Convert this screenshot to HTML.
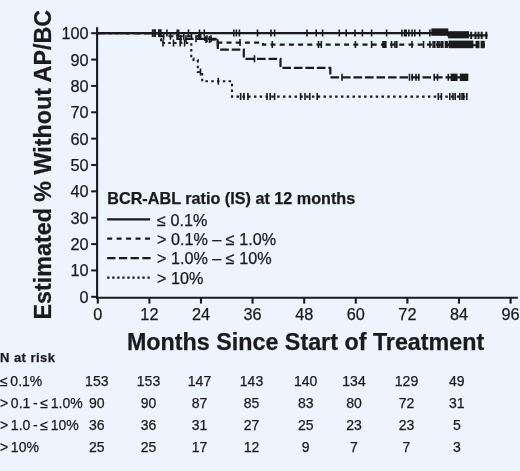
<!DOCTYPE html>
<html><head><meta charset="utf-8"><style>
html,body{margin:0;padding:0;background:#edf4fd;}
body{width:520px;height:471px;overflow:hidden;}
svg{display:block;will-change:transform;}
text{font-family:"Liberation Sans",sans-serif;fill:#1a1a1a;stroke:#1a1a1a;stroke-width:0.25px;}
.tl{font-size:16.3px;}
.at{font-size:23.3px;font-weight:bold;}
.lt{font-size:16.2px;font-weight:bold;}
.li{font-size:16.2px;}
.nh{font-size:13px;font-weight:bold;letter-spacing:0.45px;}
.rl{font-size:14px;word-spacing:-1.2px;}
.rn{font-size:14px;}
</style></head><body>
<svg width="520" height="471" viewBox="0 0 520 471">
<rect width="520" height="471" fill="#edf4fd"/>
<line x1="97.1" y1="27.2" x2="97.1" y2="298.8" stroke="#1a1a1a" stroke-width="2.1"/>
<line x1="96" y1="297.8" x2="517.8" y2="297.8" stroke="#1a1a1a" stroke-width="2.1"/>
<line x1="91.2" y1="296.80" x2="97" y2="296.80" stroke="#1a1a1a" stroke-width="2"/>
<text x="88.6" y="302.80" text-anchor="end" class="tl">0</text>
<line x1="91.2" y1="270.44" x2="97" y2="270.44" stroke="#1a1a1a" stroke-width="2"/>
<text x="88.6" y="276.44" text-anchor="end" class="tl">10</text>
<line x1="91.2" y1="244.08" x2="97" y2="244.08" stroke="#1a1a1a" stroke-width="2"/>
<text x="88.6" y="250.08" text-anchor="end" class="tl">20</text>
<line x1="91.2" y1="217.72" x2="97" y2="217.72" stroke="#1a1a1a" stroke-width="2"/>
<text x="88.6" y="223.72" text-anchor="end" class="tl">30</text>
<line x1="91.2" y1="191.36" x2="97" y2="191.36" stroke="#1a1a1a" stroke-width="2"/>
<text x="88.6" y="197.36" text-anchor="end" class="tl">40</text>
<line x1="91.2" y1="165.00" x2="97" y2="165.00" stroke="#1a1a1a" stroke-width="2"/>
<text x="88.6" y="171.00" text-anchor="end" class="tl">50</text>
<line x1="91.2" y1="138.64" x2="97" y2="138.64" stroke="#1a1a1a" stroke-width="2"/>
<text x="88.6" y="144.64" text-anchor="end" class="tl">60</text>
<line x1="91.2" y1="112.28" x2="97" y2="112.28" stroke="#1a1a1a" stroke-width="2"/>
<text x="88.6" y="118.28" text-anchor="end" class="tl">70</text>
<line x1="91.2" y1="85.92" x2="97" y2="85.92" stroke="#1a1a1a" stroke-width="2"/>
<text x="88.6" y="91.92" text-anchor="end" class="tl">80</text>
<line x1="91.2" y1="59.56" x2="97" y2="59.56" stroke="#1a1a1a" stroke-width="2"/>
<text x="88.6" y="65.56" text-anchor="end" class="tl">90</text>
<line x1="91.2" y1="33.20" x2="97" y2="33.20" stroke="#1a1a1a" stroke-width="2"/>
<text x="88.6" y="39.20" text-anchor="end" class="tl">100</text>
<line x1="97.80" y1="297" x2="97.80" y2="303.6" stroke="#1a1a1a" stroke-width="2.1"/>
<text x="97.80" y="319.7" text-anchor="middle" class="tl">0</text>
<line x1="149.40" y1="297" x2="149.40" y2="303.6" stroke="#1a1a1a" stroke-width="2.1"/>
<text x="149.40" y="319.7" text-anchor="middle" class="tl">12</text>
<line x1="201.00" y1="297" x2="201.00" y2="303.6" stroke="#1a1a1a" stroke-width="2.1"/>
<text x="201.00" y="319.7" text-anchor="middle" class="tl">24</text>
<line x1="252.60" y1="297" x2="252.60" y2="303.6" stroke="#1a1a1a" stroke-width="2.1"/>
<text x="252.60" y="319.7" text-anchor="middle" class="tl">36</text>
<line x1="304.20" y1="297" x2="304.20" y2="303.6" stroke="#1a1a1a" stroke-width="2.1"/>
<text x="304.20" y="319.7" text-anchor="middle" class="tl">48</text>
<line x1="355.80" y1="297" x2="355.80" y2="303.6" stroke="#1a1a1a" stroke-width="2.1"/>
<text x="355.80" y="319.7" text-anchor="middle" class="tl">60</text>
<line x1="407.40" y1="297" x2="407.40" y2="303.6" stroke="#1a1a1a" stroke-width="2.1"/>
<text x="407.40" y="319.7" text-anchor="middle" class="tl">72</text>
<line x1="459.00" y1="297" x2="459.00" y2="303.6" stroke="#1a1a1a" stroke-width="2.1"/>
<text x="459.00" y="319.7" text-anchor="middle" class="tl">84</text>
<line x1="510.60" y1="297" x2="510.60" y2="303.6" stroke="#1a1a1a" stroke-width="2.1"/>
<text x="510.60" y="319.7" text-anchor="middle" class="tl">96</text>
<path d="M97.00,33.10 L159.50,33.10 L159.50,39.00 L161.00,39.00 L161.00,43.00 L191.30,43.00 L191.30,58.50 L193.50,58.50 L193.50,60.00 L197.80,60.00 L197.80,72.00 L202.20,72.00 L202.20,81.30 L232.00,81.30 L232.00,96.60 L467.00,96.60" fill="none" stroke="#1a1a1a" stroke-width="2.1" stroke-dasharray="2.5 3.3"/>
<path d="M97.00,33.10 L177.50,33.10 L177.50,38.80 L217.80,38.80 L217.80,49.60 L243.80,49.60 L243.80,58.80 L280.50,58.80 L280.50,67.90 L330.30,67.90 L330.30,77.30 L468.00,77.30" fill="none" stroke="#1a1a1a" stroke-width="2.2" stroke-dasharray="8.6 2.9" stroke-dashoffset="-1.7"/>
<path d="M97.00,33.10 L158.50,33.10 L158.50,36.20 L205.00,36.20 L205.00,39.60 L215.50,39.60 L215.50,42.60 L263.00,42.60 L263.00,44.60 L448.00,44.60 L448.00,45.20 L484.80,45.20" fill="none" stroke="#1a1a1a" stroke-width="2.1" stroke-dasharray="5 4.2" stroke-dashoffset="-1"/>
<path d="M97.00,33.10 L448.30,33.10 L448.30,35.40 L487.70,35.40" fill="none" stroke="#1a1a1a" stroke-width="2.1"/>
<path d="M152.8,29.3v7.6 M155.0,29.3v7.6 M159.0,29.3v7.6 M160.7,29.3v7.6" stroke="#1a1a1a" stroke-width="2.0" fill="none"/>
<path d="M166.9,29.6v7 M177.2,29.6v7 M178.6,29.6v7 M188.5,29.6v7 M199.5,29.6v7 M204.3,29.6v7 M233.8,29.6v7 M236.4,29.6v7 M239.4,29.6v7 M257.5,29.6v7 M271.0,29.6v7 M274.6,29.6v7 M307.0,29.6v7 M316.2,29.6v7 M322.6,29.6v7 M339.3,29.6v7 M346.2,29.6v7 M355.0,29.6v7 M362.4,29.6v7 M371.6,29.6v7 M386.6,29.6v7 M401.9,29.6v7 M404.6,29.6v7 M406.2,29.6v7 M408.9,29.6v7 M412.1,29.6v7 M414.8,29.6v7 M419.7,29.6v7 M429.9,29.6v7" stroke="#1a1a1a" stroke-width="1.6" fill="none"/>
<path d="M471.2,31.8v7.3 M475.5,31.8v7.3 M478.5,31.8v7.3 M481.7,31.8v7.3 M486.3,31.8v7.3" stroke="#1a1a1a" stroke-width="2" fill="none"/>
<path d="M163.6,32.7v7 M170.5,32.7v7 M177.5,32.7v7 M183.8,32.7v7 M191.5,32.7v7 M198.8,32.7v7 M200.6,32.7v7 M206.0,36.1v7 M209.5,36.1v7 M217.5,39.1v7 M240.0,39.1v7 M272.3,41.1v7 M318.5,41.1v7 M321.3,41.1v7 M355.4,41.1v7 M371.6,41.1v7 M383.0,41.1v7 M384.5,41.1v7 M385.8,41.1v7 M391.5,41.1v7 M395.0,41.1v7 M396.8,41.1v7 M412.0,41.1v7 M423.5,41.1v7 M429.9,41.1v7 M433.1,41.1v7 M434.8,41.1v7 M437.4,41.1v7 M439.1,41.1v7 M441.2,41.1v7 M442.8,41.1v7 M445.5,41.1v7 M447.1,41.1v7" stroke="#1a1a1a" stroke-width="1.6" fill="none"/>
<path d="M180.8,35.3v7 M186.0,35.3v7 M196.0,35.3v7 M207.0,35.3v7 M211.0,35.3v7 M254.5,55.3v7 M342.0,73.8v7 M409.5,73.8v7 M412.2,73.8v7 M416.0,73.8v7 M418.8,73.8v7 M434.2,73.8v7 M437.5,73.8v7 M448.3,73.8v7" stroke="#1a1a1a" stroke-width="1.6" fill="none"/>
<path d="M163.0,39.5v7 M173.5,39.5v7 M180.2,39.5v7 M184.6,39.5v7 M200.5,68.5v7 M218.3,77.8v7 M240.6,93.1v7 M243.9,93.1v7 M247.9,93.1v7 M267.0,93.1v7 M270.2,93.1v7 M274.6,93.1v7 M300.6,93.1v7 M305.0,93.1v7 M309.8,93.1v7 M317.2,93.1v7 M438.3,93.1v7 M441.4,93.1v7 M449.8,93.1v7 M453.0,93.1v7 M455.2,93.1v7 M459.8,93.1v7 M462.0,93.1v7 M463.7,93.1v7 M466.8,93.1v7" stroke="#1a1a1a" stroke-width="1.6" fill="none"/>
<rect x="431.3" y="28.4" width="17" height="7.4" fill="#1a1a1a"/>
<rect x="448.1" y="31.2" width="21" height="7.2" fill="#1a1a1a"/>
<rect x="448.6" y="40.6" width="24.8" height="7.6" fill="#1a1a1a"/>
<rect x="475.5" y="40.8" width="4" height="7.4" fill="#1a1a1a"/>
<rect x="480.6" y="40.8" width="4.2" height="7.4" fill="#1a1a1a"/>
<rect x="450.6" y="73.6" width="6.9" height="7.4" fill="#1a1a1a"/>
<rect x="459.8" y="73.6" width="8.5" height="7.4" fill="#1a1a1a"/>
<line x1="107.2" y1="219.4" x2="150.2" y2="219.4" stroke="#1a1a1a" stroke-width="2.2"/>
<line x1="107.2" y1="238.6" x2="150.2" y2="238.6" stroke="#1a1a1a" stroke-width="2.2" stroke-dasharray="5 4.45"/>
<line x1="107.2" y1="258.2" x2="150.8" y2="258.2" stroke="#1a1a1a" stroke-width="2.2" stroke-dasharray="8.3 3.4"/>
<line x1="107.2" y1="277.7" x2="150.4" y2="277.7" stroke="#1a1a1a" stroke-width="2.2" stroke-dasharray="2.3 2.73"/>
<text x="107.3" y="203.6" class="lt">BCR-ABL ratio (IS) at 12 months</text>
<text x="157" y="225.5" class="li">≤ 0.1%</text>
<text x="157" y="244.7" class="li">&gt; 0.1% – ≤ 1.0%</text>
<text x="157" y="264.3" class="li">&gt; 1.0% – ≤ 10%</text>
<text x="157" y="283.8" class="li">&gt; 10%</text>
<text x="305.6" y="350.0" text-anchor="middle" class="at">Months Since Start of Treatment</text>
<text transform="translate(51.3,164.7) rotate(-90)" x="0" y="0" text-anchor="middle" class="at">Estimated % Without AP/BC</text>
<text x="0" y="361.8" class="nh">N at risk</text>
<text x="0" y="385.8" class="rl">≤ 0.1%</text>
<text x="96.80" y="385.8" text-anchor="middle" class="rn">153</text>
<text x="148.50" y="385.8" text-anchor="middle" class="rn">153</text>
<text x="199.50" y="385.8" text-anchor="middle" class="rn">147</text>
<text x="251.50" y="385.8" text-anchor="middle" class="rn">143</text>
<text x="305.70" y="385.8" text-anchor="middle" class="rn">140</text>
<text x="354.00" y="385.8" text-anchor="middle" class="rn">134</text>
<text x="406.50" y="385.8" text-anchor="middle" class="rn">129</text>
<text x="456.80" y="385.8" text-anchor="middle" class="rn">49</text>
<text x="0" y="407.9" class="rl">&gt; 0.1 - ≤ 1.0%</text>
<text x="96.80" y="407.9" text-anchor="middle" class="rn">90</text>
<text x="148.50" y="407.9" text-anchor="middle" class="rn">90</text>
<text x="199.50" y="407.9" text-anchor="middle" class="rn">87</text>
<text x="251.50" y="407.9" text-anchor="middle" class="rn">85</text>
<text x="305.70" y="407.9" text-anchor="middle" class="rn">83</text>
<text x="354.00" y="407.9" text-anchor="middle" class="rn">80</text>
<text x="406.50" y="407.9" text-anchor="middle" class="rn">72</text>
<text x="456.80" y="407.9" text-anchor="middle" class="rn">31</text>
<text x="0" y="429.7" class="rl">&gt; 1.0 - ≤ 10%</text>
<text x="96.80" y="429.7" text-anchor="middle" class="rn">36</text>
<text x="148.50" y="429.7" text-anchor="middle" class="rn">36</text>
<text x="199.50" y="429.7" text-anchor="middle" class="rn">31</text>
<text x="251.50" y="429.7" text-anchor="middle" class="rn">27</text>
<text x="305.70" y="429.7" text-anchor="middle" class="rn">25</text>
<text x="354.00" y="429.7" text-anchor="middle" class="rn">23</text>
<text x="406.50" y="429.7" text-anchor="middle" class="rn">23</text>
<text x="456.80" y="429.7" text-anchor="middle" class="rn">5</text>
<text x="0" y="451.7" class="rl">&gt; 10%</text>
<text x="96.80" y="451.7" text-anchor="middle" class="rn">25</text>
<text x="148.50" y="451.7" text-anchor="middle" class="rn">25</text>
<text x="199.50" y="451.7" text-anchor="middle" class="rn">17</text>
<text x="251.50" y="451.7" text-anchor="middle" class="rn">12</text>
<text x="305.70" y="451.7" text-anchor="middle" class="rn">9</text>
<text x="354.00" y="451.7" text-anchor="middle" class="rn">7</text>
<text x="406.50" y="451.7" text-anchor="middle" class="rn">7</text>
<text x="456.80" y="451.7" text-anchor="middle" class="rn">3</text>
</svg>
</body></html>
